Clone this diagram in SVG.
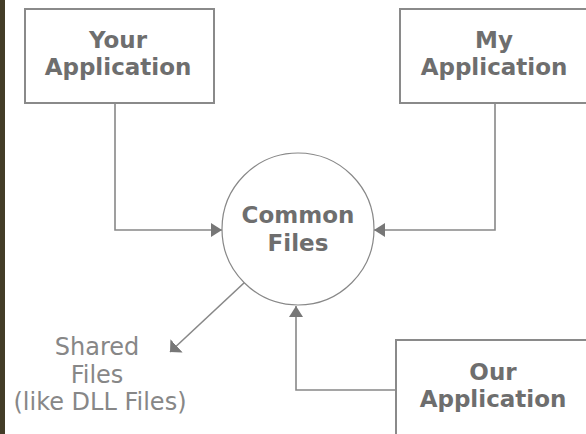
<svg xmlns="http://www.w3.org/2000/svg" width="586" height="434" viewBox="0 0 586 434">
<style>
.box{fill:#fff;stroke:#8a8a8a;stroke-width:2}
.lbl{font-family:"DejaVu Sans",Verdana,sans-serif;font-weight:bold;font-size:23px;fill:#6e6e6e;text-anchor:middle}
.note{font-family:"DejaVu Sans",Verdana,sans-serif;font-size:24px;fill:#878787;text-anchor:middle}
.con{fill:none;stroke:#888;stroke-width:1.6}
</style>
<defs>
<marker id="ah" viewBox="0 0 11 14" refX="11" refY="7" markerWidth="11" markerHeight="14" markerUnits="userSpaceOnUse" orient="auto">
<path d="M0,0 L11,7 L0,14 z" fill="#777"/>
</marker>
<marker id="ah2" viewBox="0 0 9 18" refX="9" refY="9" markerWidth="9" markerHeight="18" markerUnits="userSpaceOnUse" orient="auto">
<path d="M0,0 L9,9 L0,18 z" fill="#777"/>
</marker>
</defs>
<rect x="0" y="0" width="586" height="434" fill="#fff"/>
<rect x="0" y="0" width="5" height="434" fill="#433c27"/>
<g id="connectors">
<polyline class="con" points="115,103 115,230 222,230" marker-end="url(#ah)"/>
<polyline class="con" points="495,103 495,230 374,230" marker-end="url(#ah)"/>
<polyline class="con" points="396,390 296,390 296,306" marker-end="url(#ah)"/>
<line class="con" x1="245" y1="282" x2="170" y2="352" marker-end="url(#ah2)"/>
</g>
<g id="your-app">
<rect class="box" x="25" y="9" width="189" height="94"/>
<text class="lbl" x="118" y="48">Your</text>
<text class="lbl" x="118" y="75">Application</text>
</g>
<g id="my-app">
<rect class="box" x="400" y="9" width="192" height="94"/>
<text class="lbl" x="494" y="48">My</text>
<text class="lbl" x="494" y="75">Application</text>
</g>
<g id="common-files">
<circle cx="298" cy="229" r="76" fill="#fff" stroke="#888" stroke-width="1.2"/>
<text class="lbl" x="298" y="223">Common</text>
<text class="lbl" x="298" y="251">Files</text>
</g>
<g id="our-app">
<rect class="box" x="396" y="340" width="196" height="100"/>
<text class="lbl" x="493" y="380">Our</text>
<text class="lbl" x="493" y="407">Application</text>
</g>
<g id="shared-files">
<text class="note" x="97" y="355">Shared</text>
<text class="note" x="97" y="383">Files</text>
<text class="note" x="100" y="410">(like DLL Files)</text>
</g>
</svg>
